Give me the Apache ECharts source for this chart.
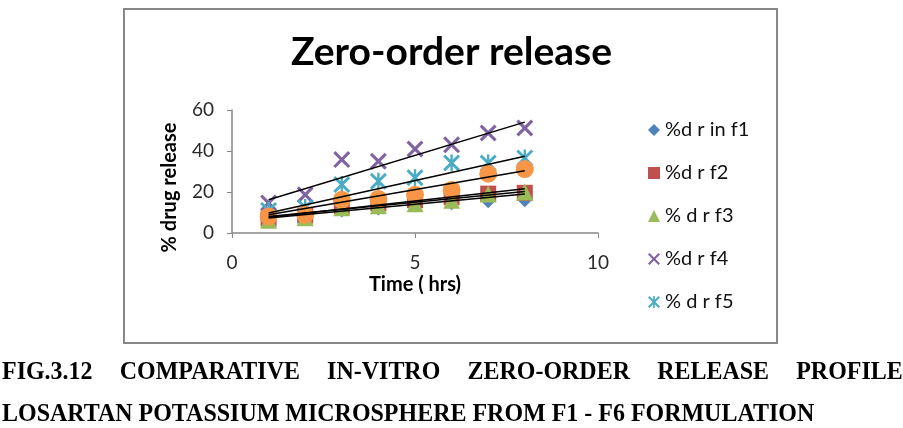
<!DOCTYPE html>
<html>
<head>
<meta charset="utf-8">
<script src="https://cdn.jsdelivr.net/npm/echarts@6/dist/echarts.min.js"></script>
<style>
  html, body { margin: 0; padding: 0; background: #fff; }
  #wrap { position: relative; width: 903px; height: 428px; overflow: hidden; }
  #chart { position: absolute; left: 0; top: 0; width: 903px; height: 428px; }
  .cap {
    position: absolute; left: 2px; white-space: nowrap;
    font-family: "Liberation Serif", "DejaVu Serif", serif;
    font-weight: bold; font-size: 26px; line-height: 26px; color: #000;
    transform-origin: 0 0; transform: scaleX(0.922);
  }
  #cap1 { top: 358px; width: 977px; display: flex; justify-content: space-between; }
  #cap2 { top: 400px; }
</style>
</head>
<body>
<div id="wrap">
  <div id="chart"></div>
  <div id="cap1" class="cap"><span>FIG.3.12</span><span>COMPARATIVE</span><span>IN-VITRO</span><span>ZERO-ORDER</span><span>RELEASE</span><span>PROFILE</span></div>
  <div id="cap2" class="cap">LOSARTAN POTASSIUM MICROSPHERE FROM F1 - F6 FORMULATION</div>
</div>
<script>
// time points (hrs)
var hours = [1, 2, 3, 4, 5, 6, 7, 8]
// % drug release per formulation
var f1 = [6, 7.5, 10.5, 11.5, 13, 14, 15, 15.5]
var f2 = [7, 8.5, 13, 14.5, 16, 17.5, 19.2, 19.6]
var f3 = [6.2, 7.5, 12.3, 13.3, 14.3, 16, 19, 20]
var f4 = [14.6, 18.7, 35.8, 35, 41, 43, 48.8, 51.2]
var f5 = [11, 12.5, 23.6, 25.2, 27, 34.2, 34.1, 36.6]
var f6 = [8.1, 8.9, 16.2, 16.6, 18.7, 21, 28.9, 31.2]
// trendline end values at first and last hour
var trendHours = [1, 8]
var trendF1 = [7.3, 19.0]
var trendF2 = [8.1, 20.3]
var trendF3 = [7.7, 21.6]
var trendF4 = [16.2, 54.1]
var trendF5 = [9.8, 37.4]
var trendF6 = [8.9, 30.4]
var names = ['%d r in f1', '%d r f2', '% d r f3', '%d r f4', '% d r f5', '%d r f6']
var xTicks = [0, 5, 10]
var yTicks = [0, 20, 40, 60]

var FONT = 'Lato'
var crossPath = 'path://M0,1.3L1.3,0L5,3.7L8.7,0L10,1.3L6.3,5L10,8.7L8.7,10L5,6.3L1.3,10L0,8.7L3.7,5Z'
var starPath = 'path://M0,1.2L1.2,0L5,3.8L8.8,0L10,1.2L6.2,5L10,8.8L8.8,10L5,6.2L1.2,10L0,8.8L3.8,5Z M4.3,0L5.7,0L5.7,10L4.3,10Z'

function pairs(xs, ys) {
  return xs.map(function (x, i) { return [x, ys[i]] })
}

var markers = [
  { data: f1, symbol: 'diamond', size: 12, color: '#4F81BD' },
  { data: f2, symbol: 'rect', size: 16, color: '#C0504D' },
  { data: f3, symbol: 'triangle', size: 17, color: '#9BBB59' },
  { data: f4, symbol: crossPath, size: 17, color: '#8064A2' },
  { data: f5, symbol: starPath, size: 17, color: '#4BACC6' },
  { data: f6, symbol: 'circle', size: 18, color: '#F79646' }
]
var trends = [trendF1, trendF2, trendF3, trendF4, trendF5, trendF6]

var series = []
markers.forEach(function (m, i) {
  series.push({
    name: names[i],
    type: 'scatter',
    symbol: m.symbol,
    symbolSize: m.size,
    itemStyle: { color: m.color, opacity: 1 },
    data: pairs(hours, m.data),
    silent: true
  })
})
trends.forEach(function (t, i) {
  series.push({
    name: 'trend' + (i + 1),
    type: 'line',
    showSymbol: false,
    symbol: 'none',
    lineStyle: { color: '#000', width: 1.5 },
    data: pairs(trendHours, t),
    silent: true
  })
})

var chart = echarts.init(document.getElementById('chart'))
chart.setOption({
  animation: false,
  backgroundColor: '#fff',
  title: {
    text: 'Zero-order release',
    left: 'center',
    top: 28,
    textStyle: { fontFamily: FONT, fontWeight: 'bold', fontSize: 39, color: '#000' }
  },
  graphic: [{
    type: 'rect',
    shape: { x: 124, y: 9, width: 653, height: 334 },
    style: { fill: 'none', stroke: '#888', lineWidth: 2 },
    silent: true
  }],
  legend: {
    orient: 'vertical',
    left: 643,
    top: 115,
    itemWidth: 12,
    itemHeight: 12,
    itemGap: 23,
    data: names.slice(0, 5),
    textStyle: { fontFamily: FONT, fontSize: 20, color: '#111', lineHeight: 18 }
  },
  grid: { left: 232, top: 110, width: 366, height: 123 },
  xAxis: {
    type: 'value',
    min: xTicks[0],
    max: xTicks[xTicks.length - 1],
    interval: 5,
    name: 'Time ( hrs)',
    nameLocation: 'middle',
    nameGap: 42,
    nameTextStyle: { fontFamily: FONT, fontWeight: 'bold', fontSize: 20, color: '#000' },
    axisLine: { lineStyle: { color: '#888', width: 1.5 } },
    axisTick: { show: true, length: 5, lineStyle: { color: '#888' } },
    axisLabel: { fontFamily: FONT, fontSize: 19, color: '#2a2a2a', margin: 20 },
    splitLine: { show: false }
  },
  yAxis: {
    type: 'value',
    min: yTicks[0],
    max: yTicks[yTicks.length - 1],
    interval: 20,
    name: '% drug release',
    nameLocation: 'middle',
    nameGap: 52,
    nameTextStyle: { fontFamily: FONT, fontWeight: 'bold', fontSize: 20, color: '#000', padding: [0, 32, 0, 0] },
    axisLine: { show: true, lineStyle: { color: '#888', width: 1.5 } },
    axisTick: { show: true, length: 5, lineStyle: { color: '#888' } },
    axisLabel: { fontFamily: FONT, fontSize: 19, color: '#2a2a2a', margin: 18 },
    splitLine: { show: false }
  },
  series: series
})
</script>
</body>
</html>
